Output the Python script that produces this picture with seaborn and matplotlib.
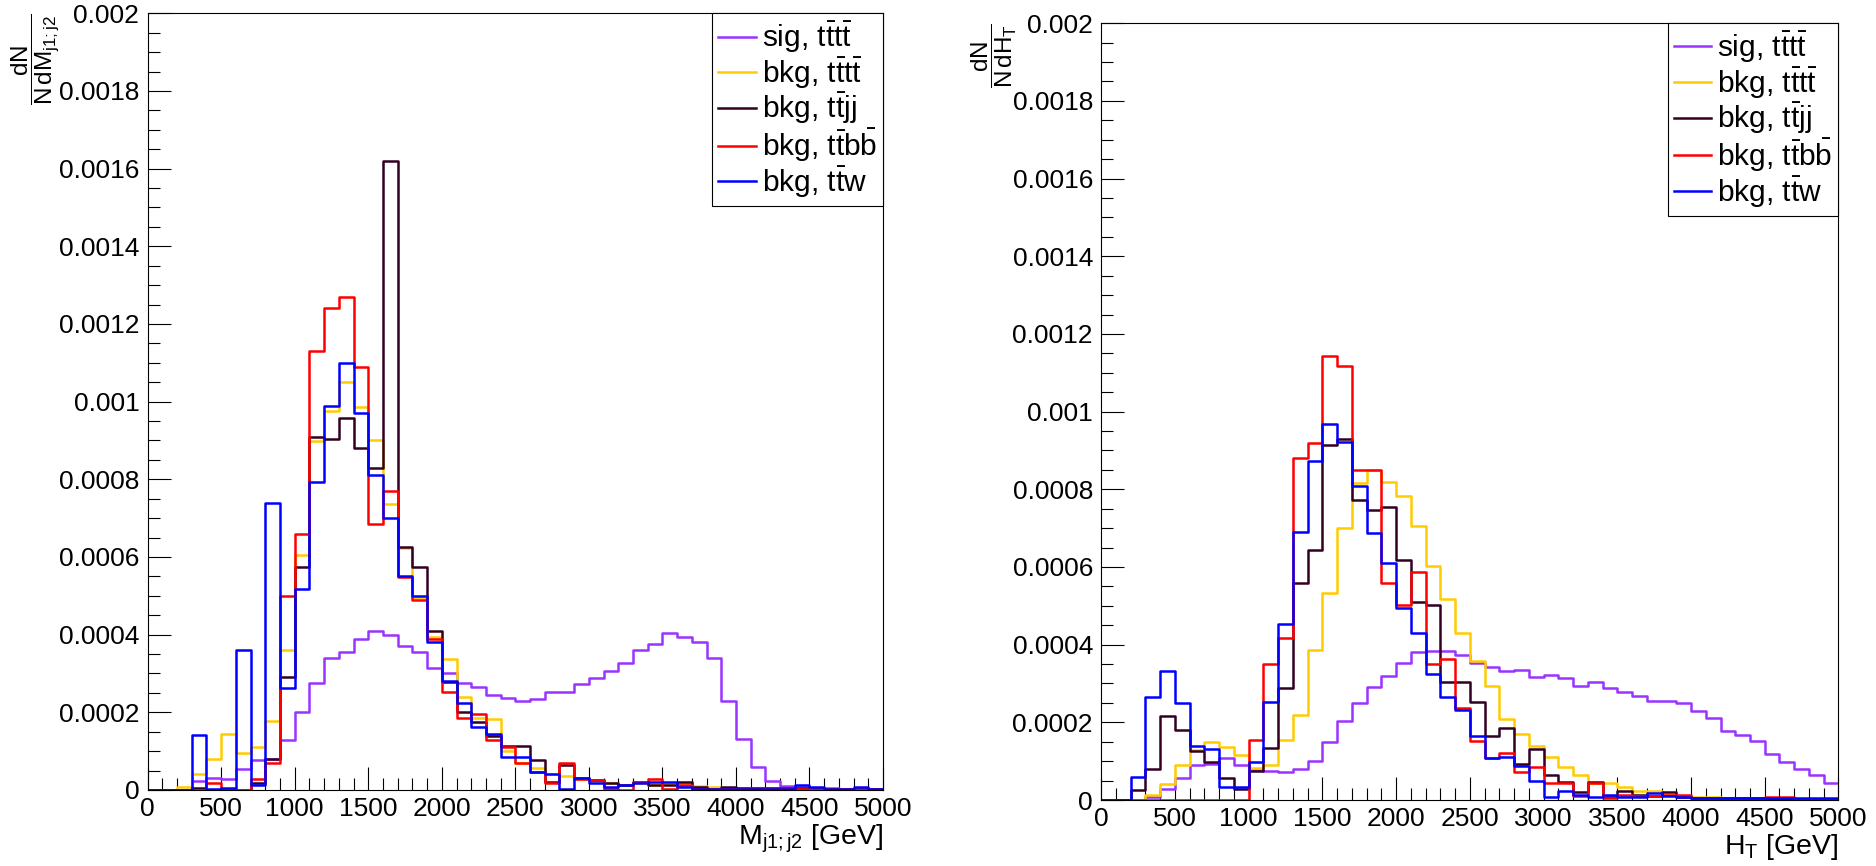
import numpy as np
import pandas as pd
import seaborn as sns
import matplotlib
matplotlib.use("Agg")
import matplotlib.pyplot as plt
from matplotlib.ticker import MultipleLocator, FuncFormatter

# 50 bins of 100 GeV from 0 to 5000
n_bins = 50
x_range = (0, 5000)

labels = [r"sig, $t\bar{t}t\bar{t}$", r"bkg, $t\bar{t}t\bar{t}$",
          r"bkg, $t\bar{t}jj$", r"bkg, $t\bar{t}b\bar{b}$", r"bkg, $t\bar{t}w$"]
colors = ["#9933ff", "#ffcc00", "#330022", "#ff0000", "#0000ff"]

# dN/(N dM_j1j2)
mjj_sig = [0, 0, 0, 0.000024, 0.00003, 0.000028, 0.000054, 0.000077, 0.00008, 0.000128,
           0.0002, 0.000275, 0.00034, 0.000355, 0.00039, 0.00041, 0.0004, 0.00037, 0.000355, 0.000315,
           0.0003, 0.000275, 0.000265, 0.000245, 0.000238, 0.00023, 0.000235, 0.000252, 0.000253, 0.000273,
           0.000288, 0.000306, 0.000327, 0.00036, 0.000377, 0.000405, 0.000394, 0.00038, 0.00034, 0.00023,
           0.000132, 0.000058, 0.000024, 0.00001, 0.000007, 0.000005, 0.000004, 0.000003, 0.000003, 0.000003]
mjj_tttt = [0, 0, 0.000008, 0.00004, 0.00008, 0.000145, 0.000094, 0.00011, 0.000178, 0.00036,
            0.000606, 0.000898, 0.000975, 0.00105, 0.000985, 0.0009, 0.000736, 0.000623, 0.000495, 0.000394,
            0.000337, 0.000239, 0.000185, 0.000182, 0.0001, 0.00007, 0.000057, 0.00004, 0.000035, 0.000028,
            0.000024, 0.000017, 0.000014, 0.000017, 0.000014, 0.000017, 0.000017, 0.00001, 0.000007, 0.000006,
            0.000005, 0.000005, 0.000004, 0.000004, 0.000004, 0.000003, 0.000003, 0.000003, 0.000003, 0.000002]
mjj_ttjj = [0, 0, 0, 0.000004, 0, 0, 0, 0.000017, 0.00008, 0.00029,
            0.000575, 0.00091, 0.000905, 0.000957, 0.00088, 0.00083, 0.00162, 0.000626, 0.000575, 0.00041,
            0.000278, 0.0002, 0.000175, 0.00014, 0.000114, 0.000114, 0.000077, 0.00002, 0.000064, 0.00003,
            0.000026, 0.000017, 0.000014, 0.00002, 0.000014, 0.000014, 0.00002, 0.000007, 0.000003, 0.000007,
            0.000005, 0.000005, 0.000005, 0.000004, 0.000004, 0.000004, 0.000003, 0.000003, 0.000003, 0.000003]
mjj_ttbb = [0, 0, 0, 0, 0.000017, 0.000003, 0, 0.000028, 0.00007, 0.0005,
            0.000658, 0.00113, 0.00124, 0.00127, 0.00109, 0.000686, 0.000769, 0.000548, 0.00049, 0.00039,
            0.000252, 0.000185, 0.000196, 0.000128, 0.000111, 0.00007, 0.000046, 0.000017, 0.00007, 0.000028,
            0.000026, 0.000003, 0, 0.00002, 0.000028, 0.000003, 0.000014, 0.000003, 0.000003, 0.000003,
            0.000003, 0.000003, 0.000003, 0.000003, 0.000003, 0.000003, 0.000003, 0.000003, 0.000003, 0.000003]
mjj_ttw = [0, 0, 0, 0.000142, 0.000002, 0.000006, 0.00036, 0.000013, 0.00074, 0.000262,
           0.000517, 0.000793, 0.00099, 0.0011, 0.00097, 0.00081, 0.0007, 0.00055, 0.0005, 0.00038,
           0.00028, 0.000225, 0.000162, 0.000145, 0.000085, 0.000085, 0.000046, 0.00004, 0.000003, 0.00003,
           0.000017, 0.000007, 0.000014, 0.000017, 0.00002, 0.00002, 0.000007, 0.000003, 0.000003, 0.000003,
           0.000003, 0.000003, 0.000003, 0.000003, 0.000014, 0.000007, 0.000003, 0.000003, 0.000007, 0.000003]

# dN/(N dH_T)
ht_sig = [0, 0, 0, 0.000007, 0.000028, 0.000057, 0.00009, 0.000093, 0.000108, 0.00009,
          0.000078, 0.000074, 0.000071, 0.00008, 0.0001, 0.00015, 0.000204, 0.000249, 0.00029, 0.000319,
          0.000353, 0.000381, 0.000384, 0.000384, 0.000374, 0.000353, 0.000342, 0.000332, 0.000336, 0.000316,
          0.000322, 0.000313, 0.000293, 0.000303, 0.000289, 0.000278, 0.000268, 0.000256, 0.000256, 0.000251,
          0.000228, 0.000211, 0.000178, 0.000168, 0.000151, 0.000118, 0.000097, 0.00008, 0.000064, 0.000043]
ht_tttt = [0, 0, 0, 0.000014, 0.000041, 0.00009, 0.000128, 0.00015, 0.000137, 0.000115,
           0.000083, 0.00009, 0.000154, 0.00022, 0.000386, 0.000534, 0.0007, 0.000816, 0.00085, 0.000818,
           0.000784, 0.000706, 0.000602, 0.000518, 0.000431, 0.000357, 0.000293, 0.000208, 0.000171, 0.00014,
           0.000111, 0.000085, 0.000065, 0.000043, 0.000043, 0.000033, 0.000023, 0.000023, 0.000014, 0.000011,
           0.000007, 0.000007, 0.000004, 0.000004, 0.000004, 0.000004, 0.000004, 0.000003, 0.000003, 0.000003]
ht_ttjj = [0, 0, 0.000026, 0.00008, 0.000216, 0.000179, 0.000125, 0.000097, 0.000057, 0.000028,
           0.000075, 0.000134, 0.000288, 0.00056, 0.000643, 0.000914, 0.00093, 0.000773, 0.000747, 0.000754,
           0.000618, 0.000511, 0.000501, 0.000303, 0.000303, 0.000253, 0.000165, 0.000185, 0.000093, 0.000132,
           0.000064, 0.000047, 0.000021, 0.000047, 0.000007, 0.000023, 0.000014, 0.000011, 0.000021, 0.000007,
           0.000004, 0.000004, 0.000004, 0.000004, 0.000004, 0.000003, 0.000003, 0.000003, 0.000003, 0.000003]
ht_ttbb = [0, 0, 0, 0, 0, 0, 0, 0, 0, 0,
           0.000154, 0.000349, 0.000417, 0.00088, 0.00092, 0.001143, 0.001117, 0.00085, 0.00085, 0.00056,
           0.000502, 0.000586, 0.00035, 0.000364, 0.000236, 0.000152, 0.000108, 0.000122, 0.000071, 0.000085,
           0.000043, 0.000043, 0.000011, 0.000043, 0.000004, 0.000014, 0.000011, 0.000011, 0.000014, 0.000014,
           0.000004, 0.000004, 0.000004, 0.000004, 0.000004, 0.000007, 0.000007, 0, 0, 0]
ht_ttw = [0, 0, 0.00006, 0.000265, 0.000333, 0.00025, 0.00014, 0.000132, 0.000034, 0.000034,
          0.000097, 0.000253, 0.000453, 0.00069, 0.000873, 0.000968, 0.000922, 0.000809, 0.000688, 0.000609,
          0.000495, 0.00043, 0.000325, 0.000265, 0.000233, 0.000165, 0.000108, 0.000111, 0.000088, 0.00005,
          0.000007, 0.000023, 0.000014, 0.000007, 0.000014, 0.000007, 0.000007, 0.000017, 0.000011, 0.000007,
          0.000004, 0.000004, 0.000004, 0.000004, 0.000004, 0.000004, 0.000004, 0.000004, 0.000004, 0.000004]

plt.rcParams["font.family"] = ["Liberation Sans", "DejaVu Sans"]
plt.rcParams["mathtext.fontset"] = "custom"
plt.rcParams["mathtext.rm"] = "Liberation Sans"
plt.rcParams["mathtext.it"] = "Liberation Sans"
plt.rcParams["mathtext.sf"] = "Liberation Sans"
plt.rcParams["mathtext.bf"] = "Liberation Sans:bold"

tick_size = 19
bin_w = (x_range[1] - x_range[0]) / n_bins
centers = x_range[0] + bin_w * (np.arange(n_bins) + 0.5)

fig = plt.figure(figsize=(18.76, 8.66), dpi=100)
ax1 = fig.add_axes([0.0787, 0.0878, 0.392, 0.8968])
ax2 = fig.add_axes([0.587, 0.0762, 0.393, 0.8970])

panels = [
    (ax1, [mjj_sig, mjj_tttt, mjj_ttjj, mjj_ttbb, mjj_ttw],
     r"$\dfrac{dN}{N\,dM_{j1{;}j2}}$", r"M$_{j1{;}j2}$ [GeV]", -0.188),
    (ax2, [ht_sig, ht_tttt, ht_ttjj, ht_ttbb, ht_ttw],
     r"$\dfrac{dN}{N\,dH_{T}}$", r"H$_{T}$ [GeV]", -0.178),
]

for ax, series, ylab, xlab, ylab_x in panels:
    for vals, col, lab in zip(series, colors, labels):
        df = pd.DataFrame({"x": centers, "w": vals})
        sns.histplot(data=df, x="x", weights="w", bins=n_bins, binrange=x_range,
                     element="step", fill=False, color=col, linewidth=1.8, label=lab, ax=ax)
    ax.set_xlim(*x_range)
    ax.set_ylim(0, 0.002)
    ax.xaxis.set_major_locator(MultipleLocator(500))
    ax.xaxis.set_minor_locator(MultipleLocator(100))
    ax.yaxis.set_major_locator(MultipleLocator(0.0002))
    ax.yaxis.set_minor_locator(MultipleLocator(0.00005))
    ax.yaxis.set_major_formatter(FuncFormatter(lambda v, p: "0" if abs(v) < 1e-12 else f"{v:g}"))
    ax.tick_params(which="both", direction="in", top=False, right=False, width=0.8, labelsize=tick_size)
    ax.tick_params(which="major", length=16.5)
    ax.tick_params(which="minor", length=8.5)
    ax.tick_params(axis="y", pad=6)
    ax.tick_params(axis="x", pad=5)
    for sp in ax.spines.values():
        sp.set_linewidth(0.8)

    ax.set_xlabel(xlab, fontsize=20.5, loc="right", labelpad=1)
    ax.set_ylabel(ylab, fontsize=17.5, loc="top")
    ax.yaxis.label.set(rotation_mode="default", ha="left", va="top")
    ax.yaxis.set_label_coords(ylab_x, 1.0)

    leg = ax.legend(loc="upper right", bbox_to_anchor=(1, 1), borderaxespad=0,
                    fontsize=21.5, frameon=True, fancybox=False, framealpha=1,
                    edgecolor="black", handlelength=1.25, handletextpad=0.2,
                    labelspacing=0.0, borderpad=0.2)
    leg.get_frame().set_linewidth(0.8)

plt.savefig("out.png", dpi=100)
